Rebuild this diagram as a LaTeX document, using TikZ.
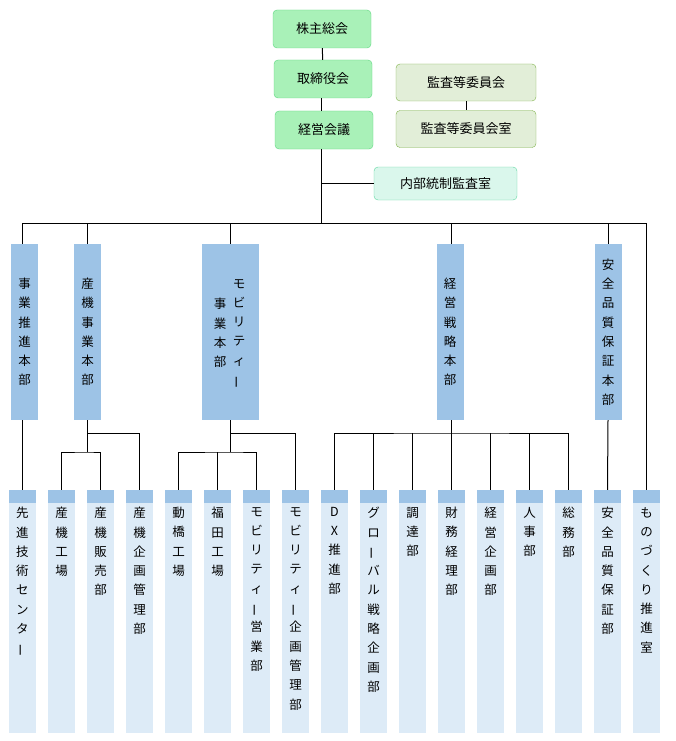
\documentclass[tikz,border=0pt]{standalone}
\usepackage{fontspec}
\setmainfont{Noto Sans CJK JP}
\usepackage{graphicx}
\definecolor{topg}{HTML}{A9F1B8}
\definecolor{topgb}{HTML}{5CD680}
\definecolor{kang}{HTML}{E2EED8}
\definecolor{kangb}{HTML}{7FB24A}
\definecolor{naig}{HTML}{DAF7EC}
\definecolor{naigb}{HTML}{5ED6A0}
\definecolor{midb}{HTML}{9DC3E6}
\definecolor{lowb}{HTML}{DDEBF7}
\newcommand{\vbarj}{\rotatebox[origin=c]{90}{ー}}
\begin{document}
\begin{tikzpicture}[x=1pt,y=-1pt,
  topbox/.style={draw=topgb,fill=topg,rounded corners=4pt,minimum width=98pt,minimum height=38pt,inner sep=0pt,font=\fontsize{13}{15}\selectfont},
  kanbox/.style={draw=kangb,fill=kang,rounded corners=4pt,minimum width=140pt,minimum height=37pt,inner sep=0pt,font=\fontsize{13}{15}\selectfont},
  naibox/.style={draw=naigb,fill=naig,rounded corners=4pt,minimum width=143pt,minimum height=33pt,inner sep=0pt,font=\fontsize{13}{15}\selectfont},
  midbox/.style={fill=midb,minimum width=27pt,minimum height=176pt,inner sep=0pt,align=center,font=\fontsize{12.5}{19.3}\selectfont},
  hdr/.style={fill=midb,minimum width=27pt,minimum height=13pt,inner sep=0pt},
  body/.style={fill=lowb,minimum width=27pt,minimum height=230pt,inner sep=0pt},
  btxt/.style={anchor=north,align=center,inner sep=0pt,font=\fontsize{12.5}{19.3}\selectfont},
  conn/.style={draw=black,line width=1pt}]
\useasboundingbox (0,0) rectangle (675,741);
% top
\node[topbox] (kabu) at (322,29) {株主総会};
\node[topbox] (tori) at (323,79) {取締役会};
\node[topbox] (keiei) at (324,130) {経営会議};
\node[kanbox] (kan) at (466,82.5) {監査等委員会};
\node[kanbox] (kanshitsu) at (466,129) {監査等委員会室};
\node[naibox] (nai) at (445.5,183.5) {内部統制監査室};
% mid
\node[midbox] (m1) at (24.5,332) {事\\業\\推\\進\\本\\部};
\node[midbox] (m2) at (87.5,332) {産\\機\\事\\業\\本\\部};
\node[midbox,minimum width=57pt] (m3) at (230.5,332) {};
\node[btxt] (m3a) at (239,279) {モ\\ビ\\リ\\テ\\ィ\\\vbarj};
\node[btxt] (m3b) at (220,298) {事\\業\\本\\部};
\node[midbox] (m4) at (450,332) {経\\営\\戦\\略\\本\\部};
\node[midbox] (m5) at (608,332) {安\\全\\品\\質\\保\\証\\本\\部};
% bottom
\foreach \i/\t in {1/{先\\進\\技\\術\\セ\\ン\\タ\\\vbarj},2/{産\\機\\工\\場},3/{産\\機\\販\\売\\部},4/{産\\機\\企\\画\\管\\理\\部},
 5/{動\\橋\\工\\場},6/{福\\田\\工\\場},7/{モ\\ビ\\リ\\テ\\ィ\\\vbarj\\営\\業\\部},8/{モ\\ビ\\リ\\テ\\ィ\\\vbarj\\企\\画\\管\\理\\部},
 9/{D\\X\\推\\進\\部},10/{グ\\ロ\\\vbarj\\バ\\ル\\戦\\略\\企\\画\\部},11/{調\\達\\部},12/{財\\務\\経\\理\\部},13/{経\\営\\企\\画\\部},
 14/{人\\事\\部},15/{総\\務\\部},16/{安\\全\\品\\質\\保\\証\\部},17/{も\\の\\づ\\く\\り\\推\\進\\室}}{
  \pgfmathsetmacro{\cx}{22.5+39*(\i-1)}
  \node[body] (bb\i) at (\cx,618) {};
  \node[hdr] (b\i) at (\cx,496.5) {};
  \node[btxt] (bt\i) at (\cx,507) {\t};
}
% connectors
\coordinate (busL) at (22.5,223);
\coordinate (busR) at (646.5,223);
\coordinate (busC) at (321,223);
\coordinate (k1) at (451.5,433);
\coordinate (k0) at (451.5,223);
\draw[conn] (kabu) -- (tori);
\draw[conn] (tori.south -| busC) -- (keiei.north -| busC);
\draw[conn] (kan) -- (kanshitsu);
\draw[conn] (keiei.south -| busC) -- (busC);
\draw[conn] (nai.west -| busC) -- (nai.west);
\draw[conn] (b1.north) -- (m1.south -| b1.north);
\draw[conn] (m1.north -| b1.north) |- (busR) -- (b17.north);
\draw[conn] (m2.north) -- (m2.north |- busL);
\draw[conn] (m3.north) -- (m3.north |- busL);
\draw[conn] (m4.north -| k0) -- (k0);
\draw[conn] (m5.north) -- (m5.north |- busL);
\draw[conn] (m5.south) -- (b16.north);
% sanki
\coordinate (s1) at (87.5,433);
\coordinate (s2) at (87.5,452);
\draw[conn] (m2.south) -- (s2);
\draw[conn] (s1) -| (b4.north);
\draw[conn] (b2.north) |- (s2) -| (b3.north);
% mobility
\coordinate (t1) at (230.5,433);
\coordinate (t2) at (230.5,452);
\draw[conn] (m3.south) -- (t2);
\draw[conn] (t1) -| (b8.north);
\draw[conn] (b5.north) |- (t2) -| (b7.north);
\draw[conn] (b6.north) -- (b6.north |- t2);
% keiei senryaku
\draw[conn] (m4.south -| k1) -- (b12.north);
\draw[conn] (b9.north) |- (k1) -| (b15.north);
\foreach \j in {10,11,13,14}{\draw[conn] (b\j.north) -- (b\j.north |- k1);}
\end{tikzpicture}
\end{document}
